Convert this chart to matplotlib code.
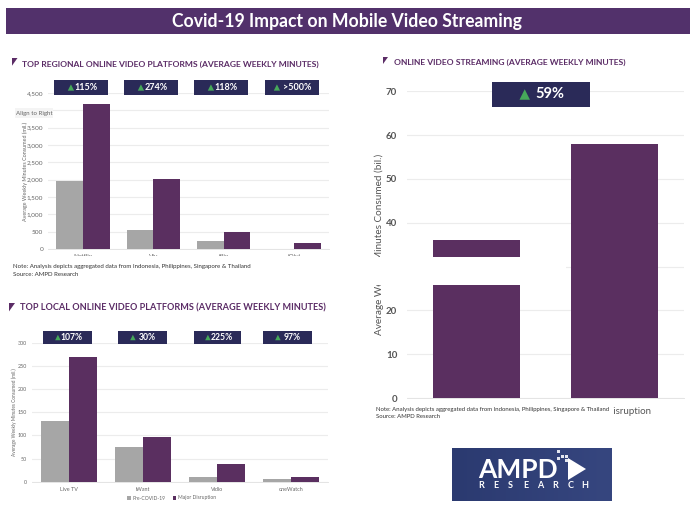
import numpy as np
import matplotlib
matplotlib.use('Agg')
import matplotlib.pyplot as plt
from matplotlib.patches import Rectangle, Polygon

W = 694
H = 517

regional_names = ['Netflix', 'Viu', 'iflix', 'iQiyi']
regional_pre = [1950, 540, 230, 0]
regional_major = [4190, 2020, 480, 160]
regional_badges = ['115%', '274%', '118%', '>500%']
regional_ticks = [0, 500, 1000, 1500, 2000, 2500, 3000, 3500, 4000, 4500]

local_names = ['Live TV', 'iWant', 'Vidio', 'oneWatch']
local_pre = [130, 74, 10, 5]
local_major = [270, 97, 38, 10]
local_badges = ['107%', '30%', '225%', '97%']
local_ticks = [0, 50, 100, 150, 200, 250, 300]

total_names = ['Pre-COVID-19', 'Major Disruption']
total_values = [36, 58]
total_ticks = [0, 10, 20, 30, 40, 50, 60, 70]

PURPLE = '#5a2f60'
GRAY = '#a6a6a6'
NAVY = '#2a2a58'
GREEN = '#46a85a'
HEAD = '#5b2c66'
plt.rcParams['font.family'] = 'Lato'


def make_axes(x0, x1, y0, y1):
    # pixel box, y counted from the top of the image
    ax = fig.add_axes([x0 / W, 1 - y1 / H, (x1 - x0) / W, (y1 - y0) / H])
    for s in ax.spines.values():
        s.set_visible(False)
    ax.spines['bottom'].set_visible(True)
    ax.spines['bottom'].set_color('#e4e4e4')
    ax.spines['bottom'].set_linewidth(0.7)
    ax.grid(axis='y', color='#ececec', linewidth=0.8)
    ax.set_axisbelow(True)
    ax.tick_params(length=0)
    return ax


def grouped(ax, names, pre, major, ticks, fs, ylabel, ylabel_fs, ylabel_x):
    x = np.arange(len(names))
    b1 = ax.bar(x - 0.19, pre, 0.38, color=GRAY, label='Pre-COVID-19')
    b2 = ax.bar(x + 0.19, major, 0.38, color=PURPLE, label='Major Disruption')
    ax.set_xlim(-0.5, len(names) - 0.5)
    ax.set_ylim(0, ticks[-1])
    ax.set_yticks(ticks)
    ax.set_yticklabels(['{:,}'.format(t) for t in ticks], fontsize=fs, color='#666666')
    ax.set_xticks(x)
    ax.set_xticklabels(names, fontsize=fs, color='#666666')
    ax.set_ylabel(ylabel, fontsize=ylabel_fs, color='#666666')
    ax.yaxis.set_label_coords(ylabel_x, 0.5)
    return b1, b2


def box(x0, x1, y0, y1, color, z=5):
    fig.add_artist(Rectangle((x0 / W, 1 - y1 / H), (x1 - x0) / W, (y1 - y0) / H,
                             transform=fig.transFigure, facecolor=color, edgecolor='none', zorder=z))


def label(x, y, s, **kw):
    kw.setdefault('va', 'center')
    kw.setdefault('zorder', 7)
    fig.text(x / W, 1 - y / H, s, **kw)


def badge(x0, x1, y0, y1, s, fs):
    box(x0, x1, y0, y1, NAVY, 6)
    mid = (x0 + x1) / 2
    cy = (y0 + y1) / 2
    h = (y1 - y0) * 0.21
    off = fs * 1.55
    if len(s) > 4:
        off += 5
    tri = [((mid - off - h) / W, 1 - (cy + h) / H),
           ((mid - off + h) / W, 1 - (cy + h) / H),
           ((mid - off) / W, 1 - (cy - h) / H)]
    fig.add_artist(Polygon(tri, transform=fig.transFigure, facecolor=GREEN, edgecolor='none', zorder=7))
    label(mid + h * 1.6, cy, s, ha='center', color='white', fontsize=fs, fontweight='bold')


def heading(mx, my, ms, x, y, s, fs):
    tri = [(mx / W, 1 - my / H), ((mx + ms) / W, 1 - my / H), (mx / W, 1 - (my + ms * 1.4) / H)]
    fig.add_artist(Polygon(tri, transform=fig.transFigure, facecolor=HEAD, edgecolor='none', zorder=7))
    label(x, y, s, color=HEAD, fontsize=fs, fontweight='bold')


fig = plt.figure(figsize=(W / 100, H / 100), dpi=100, facecolor='white')

# title band
box(6, 690, 8, 34, '#52316b', 1)
label(347, 21, 'Covid-19 Impact on Mobile Video Streaming', ha='center', color='white',
      fontsize=12.7, fontweight='bold')

# top left chart
ax1 = make_axes(48, 329, 93, 249)
grouped(ax1, regional_names, regional_pre, regional_major, regional_ticks, 4.6,
        'Average Weekly Minutes Consumed (mil.)', 3.9, -20 / 281)
ax1.get_yticklabels()[8].set_visible(False)  # under the tooltip
heading(12, 58, 5.5, 22, 64, 'TOP REGIONAL ONLINE VIDEO PLATFORMS (AVERAGE WEEKLY MINUTES)', 6.1)
for i, (x0, x1) in enumerate([(54, 108), (124, 178), (194, 248), (265, 319)]):
    badge(x0, x1, 80, 95, regional_badges[i], 6.5)
box(15, 53, 108, 118, '#f4f4f4', 6)
label(34, 113, 'Align to Right', ha='center', color='#666666', fontsize=4.4)
box(0, 345, 256, 292, 'white')
label(13, 266.5, 'Note: Analysis depicts aggregated data from Indonesia, Philippines, Singapore & Thailand',
      color='#333333', fontsize=4.4)
label(13, 274.5, 'Source: AMPD Research', color='#333333', fontsize=4.4)

# bottom left chart
ax2 = make_axes(32, 328, 342.7, 481.7)
b1, b2 = grouped(ax2, local_names, local_pre, local_major, local_ticks, 3.9,
                 'Average Weekly Minutes Consumed (mil.)', 3.4, -15 / 296)
heading(9, 303, 6, 20, 308, 'TOP LOCAL ONLINE VIDEO PLATFORMS (AVERAGE WEEKLY MINUTES)', 6.6)
for i, (x0, x1) in enumerate([(43, 92), (118, 167), (194, 241), (263, 312)]):
    badge(x0, x1, 331, 344, local_badges[i], 6.2)
ax2.legend(handles=[b1, b2], ncol=2, frameon=False, fontsize=3.6, labelcolor='#666666',
           loc='center', bbox_to_anchor=(172 / W, 1 - 498 / H), bbox_transform=fig.transFigure,
           handlelength=0.7, handleheight=0.7, handletextpad=0.4, columnspacing=1.4)

# right chart
ax3 = make_axes(407, 684, 91.3, 398)
ax3.bar(np.arange(len(total_names)), total_values, 0.63, color=PURPLE)
ax3.set_xlim(-0.5, len(total_names) - 0.5)
ax3.set_ylim(0, total_ticks[-1])
ax3.set_yticks(total_ticks)
ax3.set_yticklabels(total_ticks, fontsize=7, color='#555555', fontweight='bold')
ax3.set_xticks(np.arange(len(total_names)))
ax3.set_xticklabels(total_names, fontsize=7, color='#555555')
ax3.tick_params(axis='x', pad=6.5)
ax3.tick_params(axis='y', pad=7)
ax3.set_ylabel('Average Weekly Minutes Consumed (bil.)', fontsize=7.2, color='#555555')
ax3.yaxis.set_label_coords(-23 / 277, 0.5)
# these two sit under the pasted white patches
ax3.get_yticklabels()[3].set_visible(False)
ax3.get_xticklabels()[0].set_visible(False)
box(368, 566, 257, 285, 'white')
box(365, 612.5, 403, 432, 'white')
box(364.5, 365.2, 50, 75, '#e6e6e6')
box(364.5, 365.2, 403, 428, '#e6e6e6')
heading(383, 57, 5, 394, 62, 'ONLINE VIDEO STREAMING (AVERAGE WEEKLY MINUTES)', 6.1)
badge(492, 590, 82, 107, '59%', 10.5)
label(376, 409.5, 'Note: Analysis depicts aggregated data from Indonesia, Philippines, Singapore & Thailand',
      color='#333333', fontsize=4.3)
label(376, 417, 'Source: AMPD Research', color='#333333', fontsize=4.3)

# logo
logo = fig.add_axes([452 / W, 1 - 501 / H, 160 / W, 53 / H], zorder=8)
logo.imshow(np.linspace(0, 1, 64).reshape(1, -1), aspect='auto', extent=(0, 160, 53, 0),
            cmap=matplotlib.colors.LinearSegmentedColormap.from_list('logo', ['#2b3a70', '#36467f']))
logo.axis('off')
logo.text(66, 22, 'AMPD', ha='center', va='center', color='white', fontsize=19, fontweight='bold')
for lx, ch in zip(np.linspace(29, 133, 8), 'RESEARCH'):
    logo.text(lx, 37, ch, ha='center', va='center', color='white', fontsize=6.5, fontweight='bold')
logo.add_patch(Polygon([(116, 10), (134, 21), (116, 32)], facecolor='white', edgecolor='none'))
for sx, sy in [(105, 2), (109, 7), (113, 7), (113, 11), (105, 9)]:
    logo.add_patch(Rectangle((sx, sy), 3, 3, facecolor='#e4e7f0', edgecolor='none'))

fig.savefig('out.png', dpi=100)
